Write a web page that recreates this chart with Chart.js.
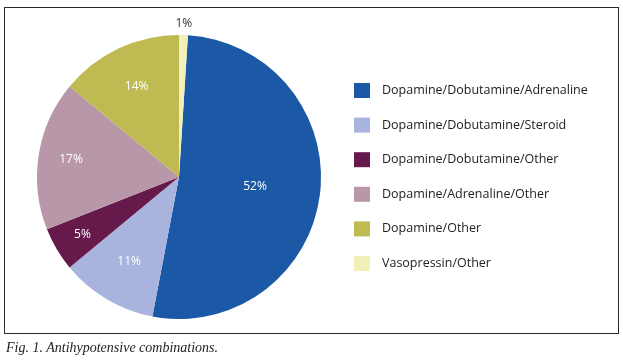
<!DOCTYPE html>
<html>
<head>
<meta charset="utf-8">
<script src="https://cdn.jsdelivr.net/npm/chart.js@4/dist/chart.umd.min.js"></script>
<style>
  html,body{margin:0;padding:0;background:#fff;}
  #wrap{position:relative;width:623px;height:361px;overflow:hidden;}
  #frame{position:absolute;left:4px;top:7px;width:613px;height:325px;border:1px solid #2a2a2a;}
  #c{position:absolute;left:0;top:0;}
  #cap{position:absolute;left:6px;top:340px;font:italic 14px "Liberation Serif",serif;color:#222;}
</style>
</head>
<body>
<div id="wrap">
  <div id="frame"></div>
  <canvas id="c" width="623" height="361"></canvas>
  <div id="cap">Fig. 1. Antihypotensive combinations.</div>
</div>
<script>
/* Antihypotensive combinations pie */
const categories=['Dopamine/Dobutamine/Adrenaline','Dopamine/Dobutamine/Steroid','Dopamine/Dobutamine/Other','Dopamine/Adrenaline/Other','Dopamine/Other','Vasopressin/Other'];
const percents=[52,11,5,17,14,1];
const sliceColors=['#1b58a5','#a9b4de','#661a4b','#b897a9','#bfbb52','#f2f0b9'];
// label distance from centre as fraction of radius, per slice
const labelRadius=[0.54,0.69,0.79,0.77,0.70,1.08];
const labelColor=['#fff','#fff','#fff','#fff','#fff','#333'];

const sliceLabels={id:'sliceLabels',afterDatasetsDraw(chart){
  const ctx=chart.ctx;const meta=chart.getDatasetMeta(0);
  ctx.save();ctx.font='12px "Open Sans"';ctx.textAlign='center';ctx.textBaseline='middle';
  meta.data.forEach(function(arc,i){
    const mid=(arc.startAngle+arc.endAngle)/2;const r=arc.outerRadius*labelRadius[i];
    ctx.fillStyle=labelColor[i];
    ctx.fillText(percents[i]+'%',arc.x+Math.cos(mid)*r,arc.y+Math.sin(mid)*r);
  });
  ctx.restore();
}};

const sideLegend={id:'sideLegend',afterDraw(chart){
  const ctx=chart.ctx;const a=chart.chartArea;
  const x0=a.right+33,y0=90.5,step=34.6,box=15;
  ctx.save();ctx.font='12.5px "Open Sans"';ctx.textBaseline='middle';ctx.textAlign='left';
  chart.data.labels.forEach(function(lab,i){
    const y=y0+i*step;
    ctx.fillStyle=chart.data.datasets[0].backgroundColor[i];
    ctx.fillRect(x0,y-box/2,box+1,box);
    ctx.fillStyle='#222';ctx.fillText(lab,x0+28,y);
  });
  ctx.restore();
}};

new Chart(document.getElementById('c'),{type:'pie',
  data:{labels:categories,datasets:[{data:percents,backgroundColor:sliceColors,borderWidth:0}]},
  options:{responsive:false,animation:false,rotation:3.6,
    layout:{padding:{left:37,top:35,right:302,bottom:42}},
    plugins:{legend:{display:false},tooltip:{enabled:false}}},
  plugins:[sliceLabels,sideLegend]});
</script>
</body>
</html>
